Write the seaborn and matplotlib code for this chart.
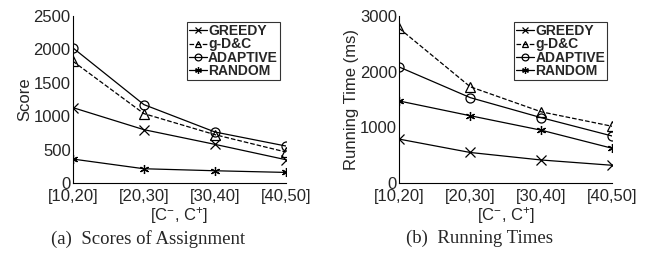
import matplotlib
matplotlib.use("Agg")
import matplotlib.pyplot as plt
import seaborn as sns

# values
ranges = ["[10,20]", "[20,30]", "[30,40]", "[40,50]"]
methods = ["GREEDY", "g-D&C", "ADAPTIVE", "RANDOM"]

score_greedy = [1130, 800, 580, 350]
score_gdc = [1825, 1040, 725, 465]
score_adaptive = [2025, 1175, 765, 555]
score_random = [360, 215, 185, 160]

time_greedy = [790, 550, 415, 320]
time_gdc = [2780, 1730, 1280, 1020]
time_adaptive = [2085, 1535, 1175, 845]
time_random = [1475, 1210, 950, 625]

styles = {
    "GREEDY": dict(marker="x", ls="-"),
    "g-D&C": dict(marker="^", ls="--"),
    "ADAPTIVE": dict(marker="o", ls="-"),
    "RANDOM": dict(marker=(6, 2, 0), ls="-"),
}

grey = "#262626"

sns.set_theme(style="white")
plt.rcParams["font.family"] = ["Liberation Sans", "DejaVu Sans"]
plt.rcParams["mathtext.fontset"] = "custom"
plt.rcParams["mathtext.rm"] = "Liberation Sans"
plt.rcParams["mathtext.it"] = "Liberation Sans"


def draw_panel(ax, series, ylabel, ymax, yticks, leg_anchor):
    pos = list(range(len(ranges)))
    for name, vals in zip(methods, series):
        st = styles[name]
        sns.lineplot(x=pos, y=vals, ax=ax, color="black", lw=0.9,
                     linestyle=st["ls"], marker=st["marker"], markersize=6.5,
                     markerfacecolor="none", markeredgecolor="black",
                     markeredgewidth=0.9, label=name)
    ax.set_xlim(0, 3)
    ax.set_ylim(0, ymax)
    ax.set_xticks(pos)
    ax.set_xticklabels(ranges)
    ax.set_yticks(yticks)
    ax.tick_params(direction="in", length=3, labelsize=12, colors="black",
                   labelcolor=grey, width=0.7)
    ax.tick_params(axis="x", pad=4)
    ax.tick_params(axis="y", pad=1.5)
    for lab in ax.get_yticklabels():
        lab.set_va("center_baseline")
    for s in ["top", "right"]:
        ax.spines[s].set_visible(False)
    for s in ["left", "bottom"]:
        ax.spines[s].set_color("black")
        ax.spines[s].set_linewidth(0.8)
    ax.set_xlabel(r"[C$^{-}$, C$^{+}$]", fontsize=12, labelpad=1, color=grey)
    ax.set_ylabel(ylabel, fontsize=12, labelpad=1, color=grey)
    leg = ax.legend(loc="upper right", bbox_to_anchor=leg_anchor,
                    frameon=True, fancybox=False, handlelength=1.3,
                    handletextpad=0.1, borderpad=0.15, labelspacing=-0.05,
                    borderaxespad=0.0, markerscale=0.75,
                    prop={"weight": "bold", "size": 10})
    leg.get_frame().set_edgecolor("black")
    leg.get_frame().set_linewidth(0.8)


fig = plt.figure(figsize=(6.62, 2.59), dpi=100)
ax1 = fig.add_axes([0.110, 0.293, 0.322, 0.645])
ax2 = fig.add_axes([0.603, 0.293, 0.322, 0.645])

draw_panel(ax1, [score_greedy, score_gdc, score_adaptive, score_random],
           "Score", 2500, [0, 500, 1000, 1500, 2000, 2500], (0.972, 0.964))
draw_panel(ax2, [time_greedy, time_gdc, time_adaptive, time_random],
           "Running Time (ms)", 3000, [0, 1000, 2000, 3000], (0.977, 0.964))

fig.text(0.224, 0.078, "(a)  Scores of Assignment", ha="center", va="center",
         fontsize=13.5, family=["Liberation Serif", "DejaVu Serif"])
fig.text(0.725, 0.078, "(b)  Running Times", ha="center", va="center",
         fontsize=13.5, family=["Liberation Serif", "DejaVu Serif"])

fig.savefig("out.png", dpi=100)
